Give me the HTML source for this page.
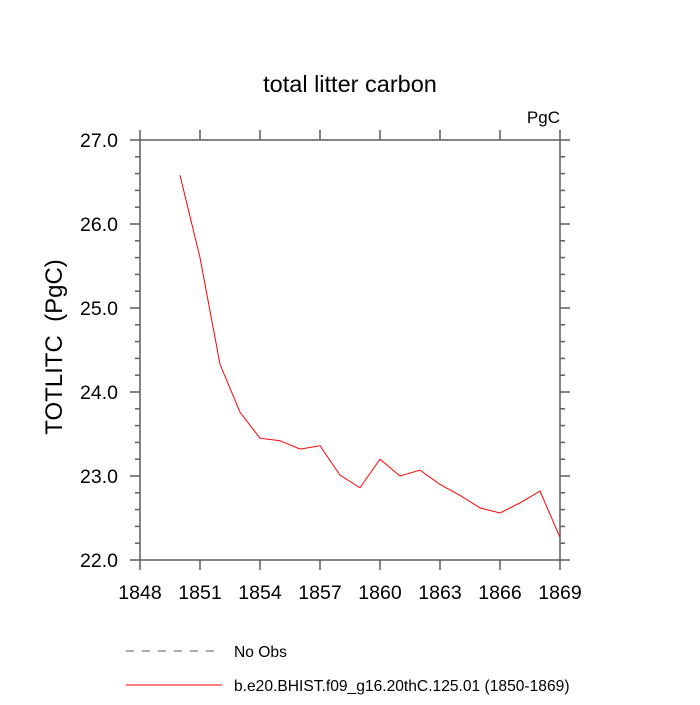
<!DOCTYPE html>
<html><head><meta charset="utf-8"><style>
body{margin:0;background:#fff}
svg text{font-family:"Liberation Sans",sans-serif;fill:#000}
</style></head><body>
<svg id="c" width="700" height="700">
<text x="350" y="92" font-size="23.5" text-anchor="middle">total litter carbon</text>
<text x="560" y="123" font-size="17" text-anchor="end">PgC</text>
<text transform="translate(62,347) rotate(-90)" font-size="24" text-anchor="middle" xml:space="preserve">TOTLITC  (PgC)</text>
<g id="ax"></g>
<g id="legend">
<line x1="126" y1="651" x2="222" y2="651" stroke="#555" stroke-dasharray="8,8"/>
<text x="234" y="657" font-size="15.6">No Obs</text>
<line x1="126" y1="685" x2="222" y2="685" stroke="#f00"/>
<text x="234" y="691" font-size="15.6">b.e20.BHIST.f09_g16.20thC.125.01 (1850-1869)</text>
</g>
</svg>
<script>
const years=[1850,1851,1852,1853,1854,1855,1856,1857,1858,1859,1860,1861,1862,1863,1864,1865,1866,1867,1868,1869];
const values=[26.58,25.60,24.33,23.76,23.45,23.42,23.32,23.36,23.01,22.86,23.20,23.00,23.07,22.90,22.77,22.62,22.56,22.68,22.82,22.27];
const xTicks=[1848,1851,1854,1857,1860,1863,1866,1869];
const yTicks=[22,23,24,25,26,27];
const L=140,R=560,T=140,B=560,x0=1848,x1=1869,y0=22,y1=27;
const X=v=>L+(v-x0)/(x1-x0)*(R-L);
const Y=v=>B-(v-y0)/(y1-y0)*(B-T);
const ns="http://www.w3.org/2000/svg",g=document.getElementById('ax');
function mk(t,a){const e=document.createElementNS(ns,t);for(const k in a)e.setAttribute(k,a[k]);g.appendChild(e);return e;}
const st={stroke:"#666","stroke-width":1.6,fill:"none"};
let e=mk('rect',Object.assign({x:L,y:T,width:R-L,height:B-T},st));


xTicks.forEach(v=>{
 e=mk('line',Object.assign({x1:X(v),x2:X(v),y1:B,y2:B+10},st));
 
 
 e=mk('line',Object.assign({x1:X(v),x2:X(v),y1:T,y2:T-10},st));
 
 
 e=mk('text',{x:X(v),y:B+39,'font-size':19.5,'text-anchor':'middle'});e.textContent=v;
 
 
});
for(let v=y0;v<=y1+1e-6;v+=0.2){
 const major=Math.abs(v-Math.round(v))<1e-6,len=major?10:5;
 e=mk('line',Object.assign({x1:L-len,x2:L,y1:Y(v),y2:Y(v)},st));
 
 
 e=mk('line',Object.assign({x1:R,x2:R+len,y1:Y(v),y2:Y(v)},st));
 
 
}
yTicks.forEach(v=>{
 e=mk('text',{x:L-22,y:Y(v)+7,'font-size':19.5,'text-anchor':'end'});e.textContent=v.toFixed(1);
 
 
});
e=mk('polyline',{points:years.map((y,i)=>X(y)+','+Y(values[i])).join(' '),stroke:'#f00','stroke-width':1,fill:'none'});


</script>
</body></html>
